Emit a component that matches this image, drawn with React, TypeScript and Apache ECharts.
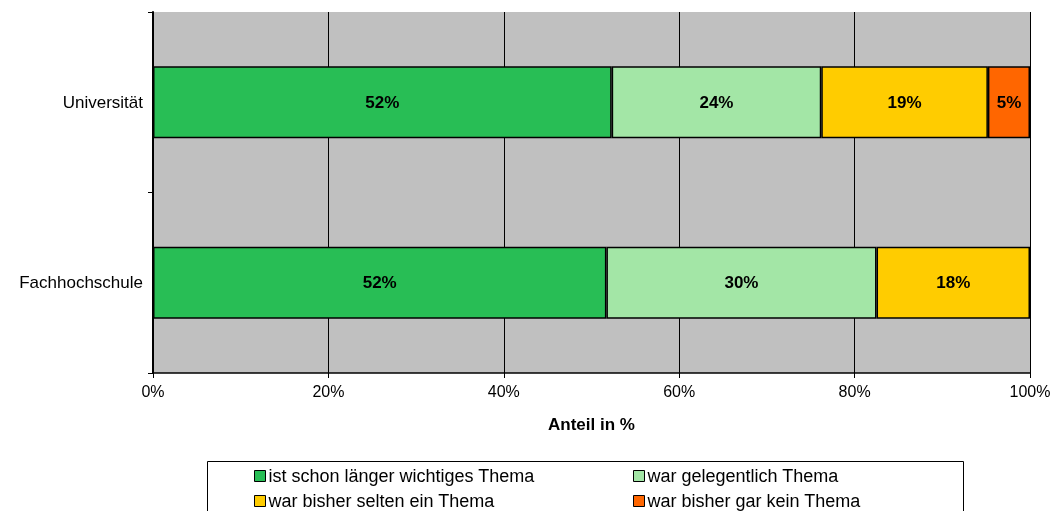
import React, { useEffect, useRef } from "react";
import * as echarts from "echarts";

const categories = ["Fachhochschule", "Universität"];
const seriesNames = [
  "ist schon länger wichtiges Thema",
  "war gelegentlich Thema",
  "war bisher selten ein Thema",
  "war bisher gar kein Thema",
];
// values per series: [Fachhochschule, Universität]
const wichtig = [51.7, 52.3];
const gelegentlich = [30.8, 23.9];
const selten = [17.5, 19.0];
const garKein = [0, 4.8];
// displayed labels (as printed in the chart)
const wichtigLabels = ["52%", "52%"];
const gelegentlichLabels = ["30%", "24%"];
const seltenLabels = ["18%", "19%"];
const garKeinLabels = ["", "5%"];
const xTicks = [0, 20, 40, 60, 80, 100];

const colors = ["#28BE55", "#A3E6A6", "#FFCC00", "#FF6600"];
const FONT = "Liberation Sans, Arial, sans-serif";

export default function App() {
  const ref = useRef<HTMLDivElement>(null);
  useEffect(() => {
    if (!ref.current) return;
    const chart = echarts.init(ref.current, undefined, { renderer: "svg" });
    const values = [wichtig, gelegentlich, selten, garKein];
    const labels = [wichtigLabels, gelegentlichLabels, seltenLabels, garKeinLabels];
    const legendPos = [
      { left: 254, top: 467 },
      { left: 633, top: 467 },
      { left: 254, top: 492 },
      { left: 633, top: 492 },
    ];
    chart.setOption({
      animation: false,
      textStyle: { fontFamily: FONT },
      grid: {
        left: 153,
        right: 20,
        top: 12,
        bottom: 138,
        containLabel: false,
        outerBoundsMode: "none",
        show: true,
        backgroundColor: "#C0C0C0",
        borderColor: "#C0C0C0",
        borderWidth: 0,
      },
      xAxis: {
        type: "value",
        min: xTicks[0],
        max: xTicks[xTicks.length - 1],
        interval: 20,
        name: "Anteil in %",
        nameLocation: "middle",
        nameGap: 43,
        nameTextStyle: { fontFamily: FONT, fontSize: 17, fontWeight: "bold", color: "#000" },
        axisLine: { show: true, lineStyle: { color: "#000", width: 1.5 } },
        axisTick: { show: true, length: 5, lineStyle: { color: "#000" } },
        axisLabel: { formatter: "{value}%", fontFamily: FONT, fontSize: 16, color: "#000", margin: 10 },
        splitLine: { show: true, lineStyle: { color: "#000", width: 1 } },
      },
      yAxis: {
        type: "category",
        data: categories,
        axisLine: { show: true, lineStyle: { color: "#000", width: 2 } },
        axisTick: { show: true, length: 5, alignWithLabel: false, lineStyle: { color: "#000" } },
        axisLabel: { fontFamily: FONT, fontSize: 17, color: "#000", margin: 10 },
        splitLine: { show: false },
      },
      legend: seriesNames.map((n, i) => ({
        data: [n],
        ...legendPos[i],
        orient: "horizontal",
        itemWidth: 11,
        itemHeight: 11,
        padding: 0,
        icon: "rect",
        textStyle: { fontFamily: FONT, fontSize: 18, color: "#000", padding: [0, 0, 0, -2] },
        itemStyle: { borderColor: "#000", borderWidth: 1 },
        selectedMode: false,
      })),
      graphic: [
        {
          type: "rect",
          shape: { x: 207.5, y: 461.5, width: 756, height: 60 },
          style: { fill: "#fff", stroke: "#000", lineWidth: 1 },
          z: -1,
        },
      ],
      series: seriesNames.map((n, i) => ({
        name: n,
        type: "bar",
        stack: "total",
        barWidth: "40%",
        data: values[i].map((v) => (v > 0 ? v : null)),
        itemStyle: { color: colors[i], borderColor: "#000", borderWidth: 1.5 },
        label: {
          show: true,
          position: "inside",
          fontFamily: FONT,
          fontSize: 17,
          fontWeight: "bold",
          color: "#000",
          formatter: (p: any) => labels[i][p.dataIndex],
        },
      })),
    });
    return () => chart.dispose();
  }, []);
  return (
    <div
      ref={ref}
      style={{ position: "fixed", left: 0, top: 0, width: 1050, height: 511 }}
    />
  );
}
